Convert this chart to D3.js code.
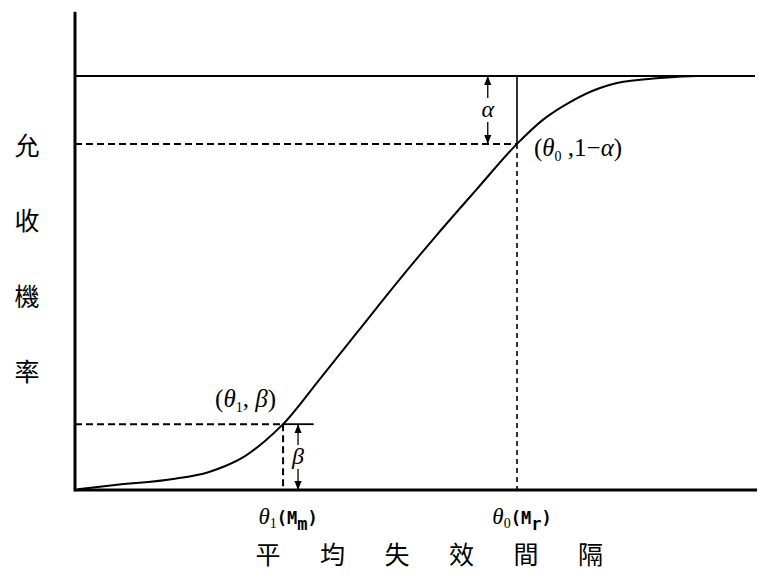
<!DOCTYPE html>
<html>
<head>
<meta charset="utf-8">
<script src="https://cdn.jsdelivr.net/npm/d3@7"></script>
<style>
  body { margin: 0; background: #fff; }
  svg { display: block; }
  .math { font-family: "Liberation Serif", "DejaVu Serif", serif; }
  .mono { font-family: "DejaVu Sans Mono", monospace; font-weight: bold; }
  .cjk { font-family: "Noto Sans CJK TC", "Noto Sans CJK SC", sans-serif; }
</style>
</head>
<body>
<svg id="oc"></svg>
<script>
// operating characteristic curve
var curveX = [0.04, 0.59, 1.47, 1.96, 2.21, 2.50, 2.79, 3.06, 3.60, 4.16, 4.72, 5.31, 5.90, 6.50, 6.88, 7.28, 7.72, 7.97, 8.60, 9.15, 9.94];
var curveY = [0.002, 0.012, 0.027, 0.043, 0.058, 0.082, 0.118, 0.159, 0.268, 0.383, 0.498, 0.614, 0.725, 0.836, 0.894, 0.937, 0.971, 0.983, 0.995, 1.0, 1.0];

var theta1 = 3.06, beta = 0.159;
var theta0 = 6.50, alpha = 0.164;

var yTitle = ["允", "收", "機", "率"];
var xTitle = ["平", "均", "失", "效", "間", "隔"];

var width = 770, height = 580;
var svg = d3.select("#oc").attr("width", width).attr("height", height);

var x = d3.scaleLinear().domain([0, 10]).range([75, 755]);
var y = d3.scaleLinear().domain([0, 1]).range([490, 76]);

// axes (plain lines, no ticks)
svg.append("line")
  .attr("x1", x(0)).attr("x2", x(0))
  .attr("y1", y(0) + 1.5).attr("y2", y(1.155))
  .attr("stroke", "#000").attr("stroke-width", 3);
svg.append("line")
  .attr("x1", x(0)).attr("x2", x(10.03))
  .attr("y1", y(0)).attr("y2", y(0))
  .attr("stroke", "#000").attr("stroke-width", 3);

// probability = 1 line
svg.append("line")
  .attr("x1", x(0)).attr("x2", x(10))
  .attr("y1", y(1)).attr("y2", y(1))
  .attr("stroke", "#000").attr("stroke-width", 2);

var pts = curveX.map((d, i) => [d, curveY[i]]);
svg.append("path")
  .datum(pts)
  .attr("fill", "none")
  .attr("stroke", "#000")
  .attr("stroke-width", 2)
  .attr("d", d3.line().x(d => x(d[0])).y(d => y(d[1])).curve(d3.curveMonotoneX));

function seg(x1, y1, x2, y2, w, dash) {
  var l = svg.append("line")
    .attr("x1", x(x1)).attr("x2", x(x2))
    .attr("y1", y(y1)).attr("y2", y(y2))
    .attr("stroke", "#000").attr("stroke-width", w);
  if (dash) l.attr("stroke-dasharray", dash);
  return l;
}

// theta0 guides
seg(0, 1 - alpha, theta0, 1 - alpha, 2, "7,4");
seg(theta0, 1, theta0, 1 - alpha, 1.6);
seg(theta0, 1 - alpha, theta0, 0, 1.6, "5,4");

// theta1 guides
seg(0, beta, theta1, beta, 2, "7,4");
seg(theta1, beta, theta1 + 0.45, beta, 1.8);
seg(theta1, beta, theta1, 0, 2, "7,4");

// double arrows
svg.append("defs").append("marker")
  .attr("id", "ah")
  .attr("viewBox", "0 0 10 10")
  .attr("refX", 10).attr("refY", 5)
  .attr("markerWidth", 9).attr("markerHeight", 9)
  .attr("markerUnits", "userSpaceOnUse")
  .attr("orient", "auto")
  .append("path").attr("d", "M0,1 L10,5 L0,9 Z").attr("fill", "#000");

function gapArrow(xv, lo, hi, label) {
  var mid = (y(lo) + y(hi)) / 2;
  svg.append("line")
    .attr("x1", x(xv)).attr("x2", x(xv))
    .attr("y1", mid - 12).attr("y2", y(hi))
    .attr("stroke", "#000").attr("stroke-width", 1.3)
    .attr("marker-end", "url(#ah)");
  svg.append("line")
    .attr("x1", x(xv)).attr("x2", x(xv))
    .attr("y1", mid + 12).attr("y2", y(lo))
    .attr("stroke", "#000").attr("stroke-width", 1.3)
    .attr("marker-end", "url(#ah)");
  svg.append("text").attr("class", "math")
    .attr("x", x(xv)).attr("y", mid + 7)
    .attr("text-anchor", "middle")
    .attr("font-size", 24).attr("font-style", "italic")
    .text(label);
}
gapArrow(6.07, 1 - alpha, 1, "α");
gapArrow(3.28, 0, beta, "β");

// point labels
var lab0 = svg.append("text").attr("class", "math")
  .attr("x", x(theta0) + 17).attr("y", y(1 - alpha) + 12)
  .attr("font-size", 25);
lab0.append("tspan").text("(");
lab0.append("tspan").attr("font-style", "italic").text("θ");
lab0.append("tspan").attr("font-size", 14).attr("dy", 5).text("0");
lab0.append("tspan").attr("dy", -5).text(" ,1−");
lab0.append("tspan").attr("font-style", "italic").text("α");
lab0.append("tspan").text(")");

var lab1 = svg.append("text").attr("class", "math")
  .attr("x", x(theta1) - 68).attr("y", y(beta) - 17)
  .attr("font-size", 25);
lab1.append("tspan").text("(");
lab1.append("tspan").attr("font-style", "italic").text("θ");
lab1.append("tspan").attr("font-size", 14).attr("dy", 5).text("1");
lab1.append("tspan").attr("dy", -5).text(", ");
lab1.append("tspan").attr("font-style", "italic").text("β");
lab1.append("tspan").text(")");

// x tick labels
function tickLabel(xv, sub, msub) {
  var t = svg.append("text")
    .attr("x", x(xv) + 5).attr("y", 524)
    .attr("text-anchor", "middle");
  t.append("tspan").attr("class", "math").attr("font-size", 23).attr("font-style", "italic").text("θ");
  t.append("tspan").attr("class", "math").attr("font-size", 14).attr("dy", 4).text(sub);
  t.append("tspan").attr("class", "mono").attr("font-size", 17).attr("dy", -4).text("(M");
  t.append("tspan").attr("class", "mono").attr("font-size", 17).attr("dy", 6).text(msub);
  t.append("tspan").attr("class", "mono").attr("font-size", 17).attr("dy", -6).text(")");
}
tickLabel(theta1, "1", "m");
tickLabel(theta0, "0", "r");

// axis titles
svg.append("g").selectAll("text")
  .data(xTitle)
  .join("text")
  .attr("class", "cjk")
  .attr("x", (d, i) => 268 + i * 64.5)
  .attr("y", 564)
  .attr("text-anchor", "middle")
  .attr("font-size", 25)
  .text(d => d);

svg.append("g").selectAll("text")
  .data(yTitle)
  .join("text")
  .attr("class", "cjk")
  .attr("x", 27)
  .attr("y", (d, i) => 155 + i * 75.3)
  .attr("text-anchor", "middle")
  .attr("font-size", 25)
  .text(d => d);
</script>
</body>
</html>
